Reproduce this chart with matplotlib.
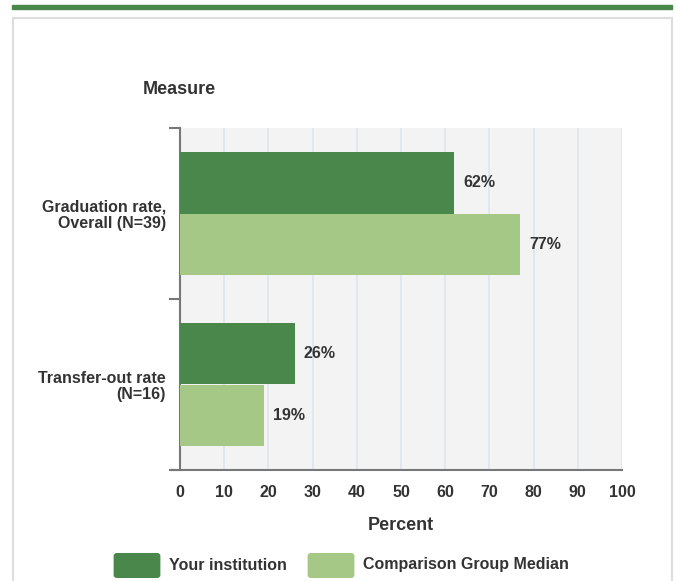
import matplotlib
matplotlib.use('Agg')
import matplotlib.pyplot as plt
from matplotlib.patches import FancyBboxPatch, Rectangle
from matplotlib.lines import Line2D

measures = ['Graduation rate,\nOverall (N=39)', 'Transfer-out rate\n(N=16)']
your_inst = [62, 26]
comparison = [77, 19]
series_names = ['Your institution', 'Comparison Group Median']
x_ticks = [0, 10, 20, 30, 40, 50, 60, 70, 80, 90, 100]

dark = '#4a874a'
light = '#a5c887'
txt = '#333333'

plt.rcParams['font.family'] = ['Liberation Sans', 'DejaVu Sans']
plt.rcParams['font.weight'] = 'bold'

W, H = 676, 581
fig = plt.figure(figsize=(W / 100, H / 100), dpi=100)

def fx(px):
    return px / W

def fy(py):
    return 1 - py / H

# top green band and outer box
fig.patches.append(Rectangle((fx(12), fy(9)), fx(660), 4 / H, transform=fig.transFigure,
                             color=dark, zorder=-2))
fig.patches.append(Rectangle((fx(13), fy(585)), fx(659), 567 / H, transform=fig.transFigure,
                             facecolor='white', edgecolor='#dddddd', lw=1.5, zorder=-2))

ax = fig.add_axes([fx(180), fy(470), fx(622 - 180), (470 - 128) / H])
ax.set_zorder(2)
ax.set_facecolor('#f3f3f3')

pos = list(range(len(measures)))
h = 0.362
ax.barh([p - h / 2 for p in pos], your_inst, height=h, color=dark, zorder=3)
ax.barh([p + h / 2 for p in pos], comparison, height=h, color=light, zorder=3)

for p, v in zip(pos, your_inst):
    ax.text(v + 2, p - h / 2, f'{v}%', va='center', ha='left', fontsize=11.5,
            fontweight='bold', color=txt)
for p, v in zip(pos, comparison):
    ax.text(v + 2, p + h / 2, f'{v}%', va='center', ha='left', fontsize=11.5,
            fontweight='bold', color=txt)

ax.set_xlim(0, 100)
ax.set_ylim(1.5, -0.5)
ax.set_xticks(x_ticks)
ax.set_xticklabels([str(t) for t in x_ticks], fontsize=11.5, fontweight='bold', color=txt)
ax.tick_params(axis='x', length=0, pad=11)
ax.grid(axis='x', color='#dde5ef', lw=1.2, zorder=1)

ax.set_yticks([-0.5, 0.5, 1.5])
ax.set_yticklabels([])
ax.set_yticks(pos, minor=True)
ax.set_yticklabels(measures, minor=True, fontsize=11.5, fontweight='bold', color=txt,
                   ha='right', linespacing=1.05)
ax.tick_params(axis='y', which='major', length=8, width=1.5, color='#777777')
ax.tick_params(axis='y', which='minor', length=0, pad=10)

for s in ['top', 'right']:
    ax.spines[s].set_visible(False)
ax.spines['left'].set_color('#777777')
ax.spines['left'].set_linewidth(1.5)
ax.spines['bottom'].set_visible(False)
fig.lines.append(Line2D([fx(171), fx(622)], [fy(470), fy(470)], transform=fig.transFigure,
                        color='#777777', lw=1.5, zorder=5))

fig.text(fx(143), fy(90), 'Measure', fontsize=13, fontweight='bold', color=txt,
         ha='left', va='center')
fig.text(fx(401), fy(526), 'Percent', fontsize=13, fontweight='bold', color=txt,
         ha='center', va='center')

# legend
for x0, col, name in [(114, dark, series_names[0]), (308, light, series_names[1])]:
    fig.patches.append(FancyBboxPatch((fx(x0 + 3), fy(578 - 3)), fx(40), 19 / H,
                                      boxstyle='round,pad=0.004', transform=fig.transFigure,
                                      color=col))
    fig.text(fx(x0 + 55), fy(565), name, fontsize=11.5, fontweight='bold', color=txt,
             ha='left', va='center')

fig.savefig('out.png', dpi=100)
